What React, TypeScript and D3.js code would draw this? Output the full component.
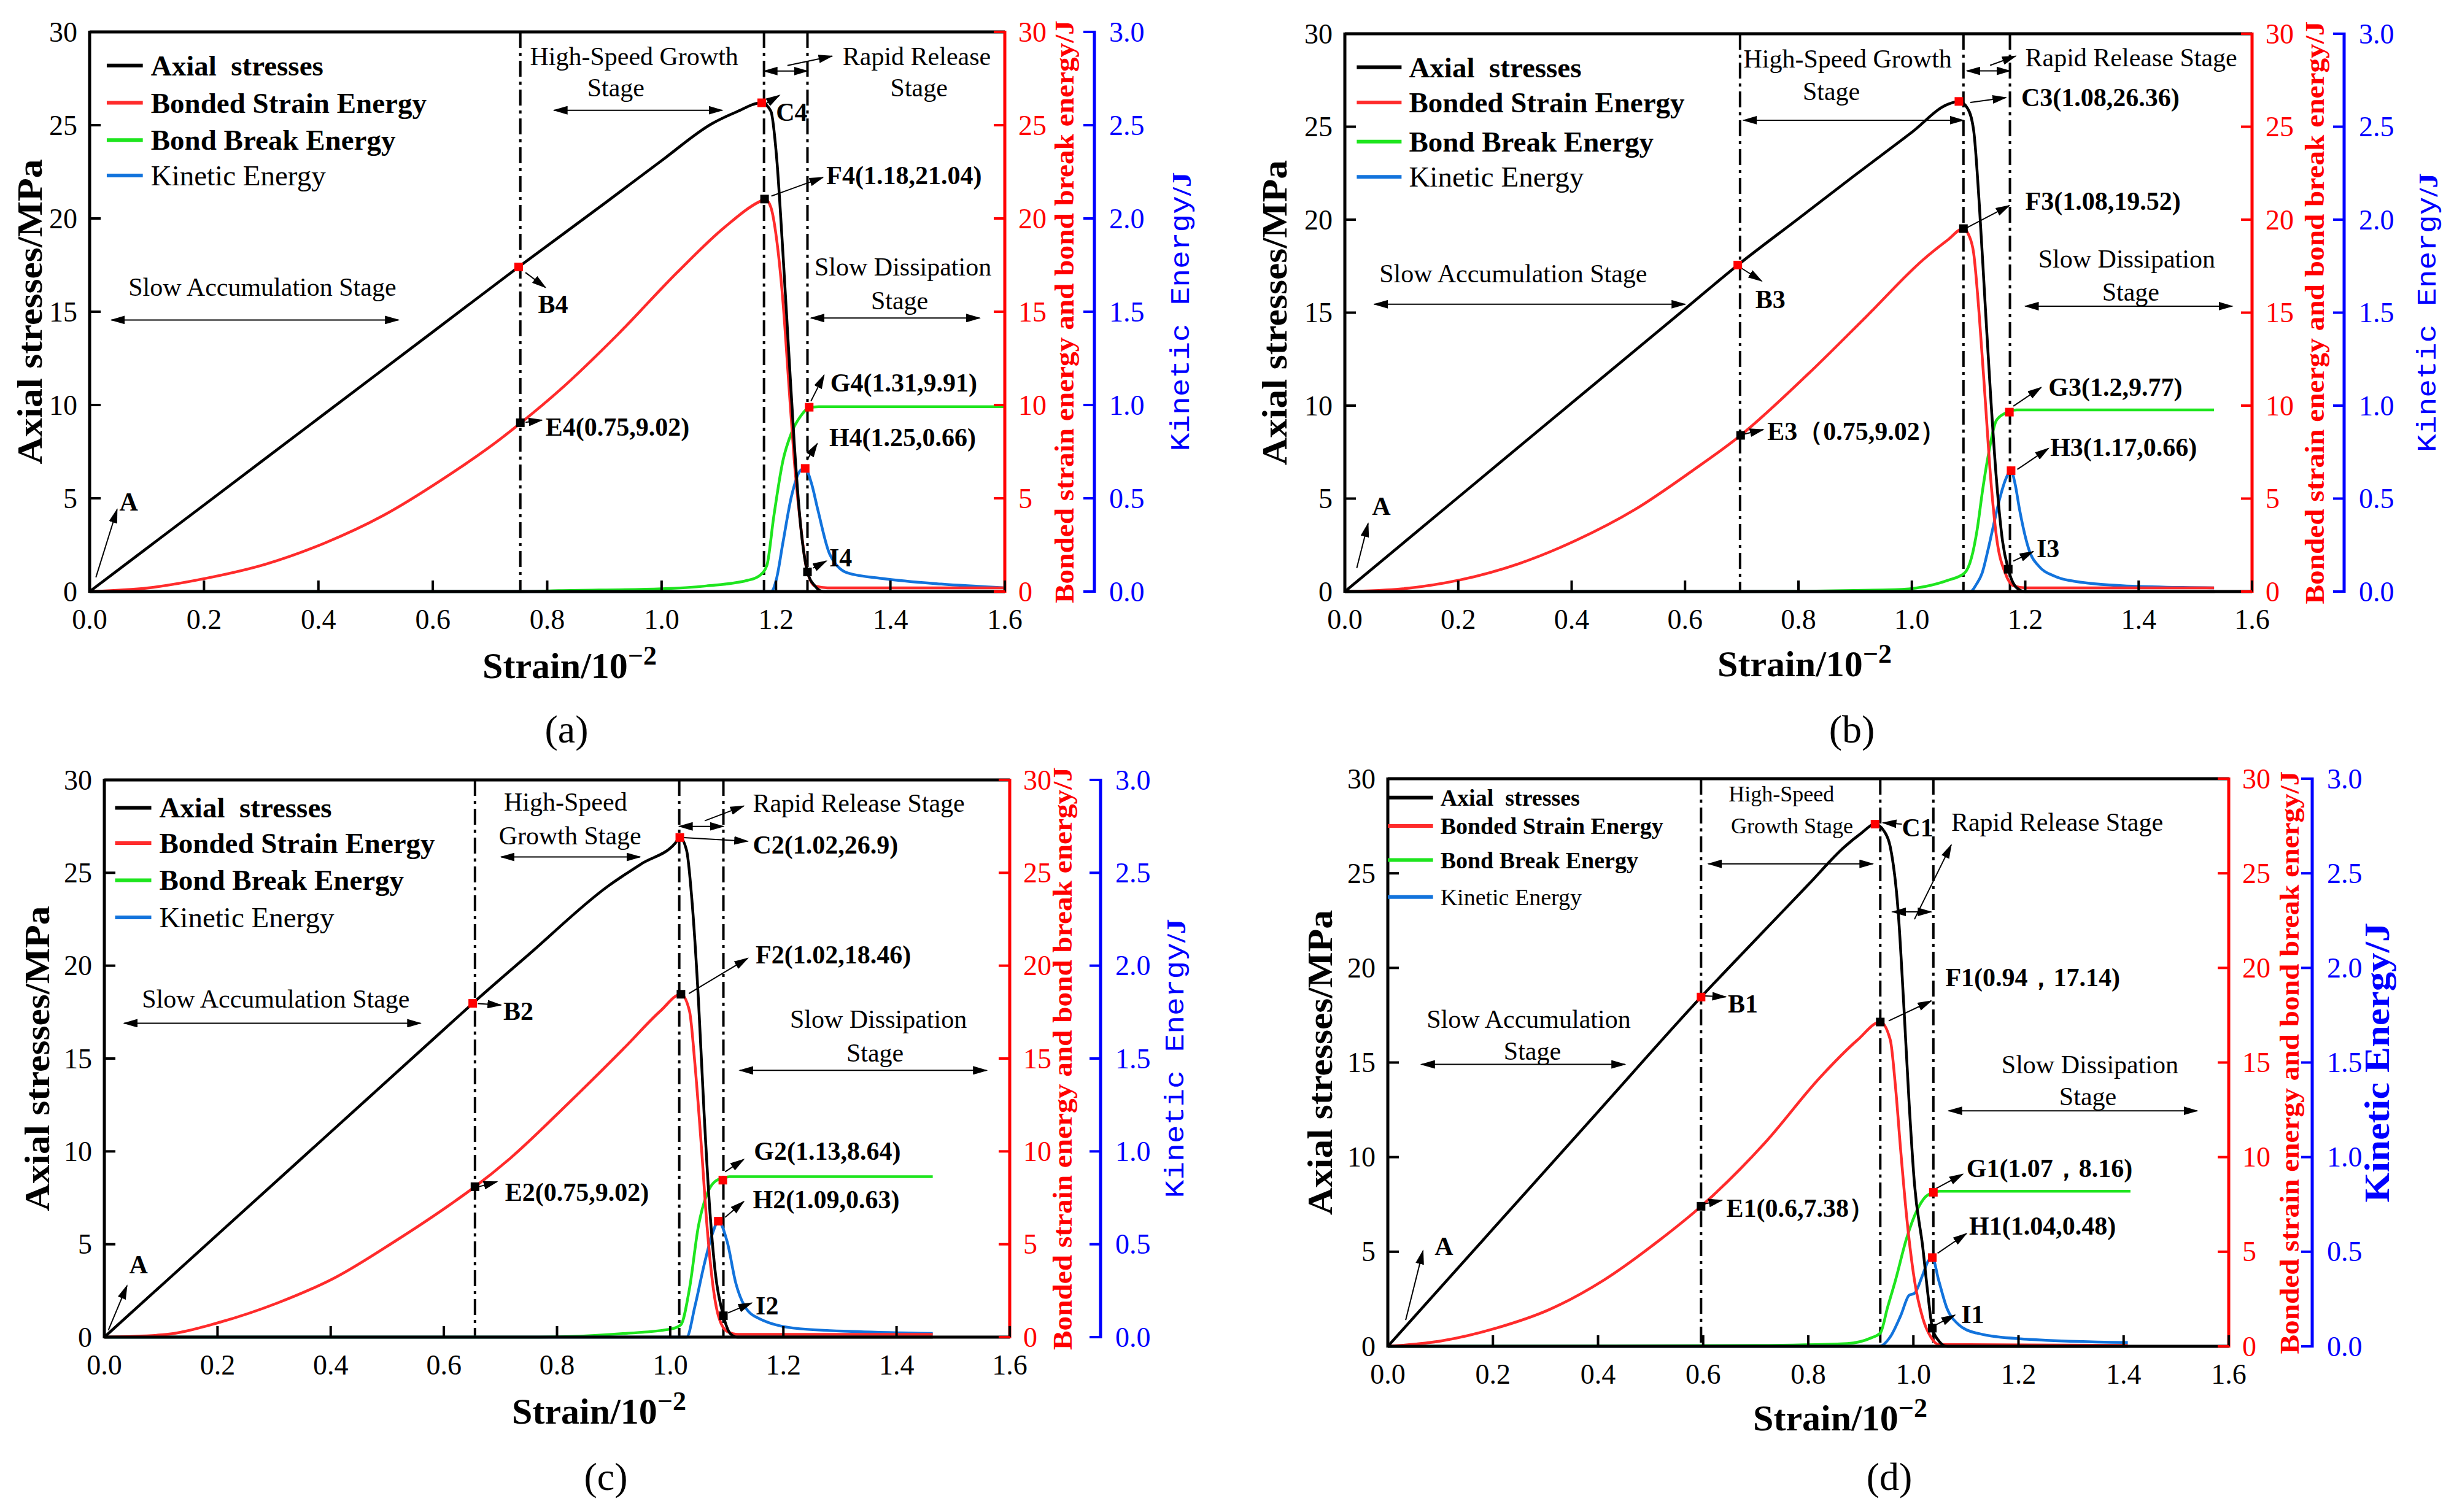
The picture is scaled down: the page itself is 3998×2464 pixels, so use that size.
import * as d3 from "d3";

type P = [number, number];

// ---------- shared axis values ----------
const xTicks = [0, 0.2, 0.4, 0.6, 0.8, 1.0, 1.2, 1.4, 1.6];
const yTicks = [0, 5, 10, 15, 20, 25, 30];
const kTicks = [0, 0.5, 1.0, 1.5, 2.0, 2.5, 3.0];
const legendLabels = ["Axial  stresses", "Bonded Strain Energy", "Bond Break Energy", "Kinetic Energy"];
const seriesColors = ["#000000", "#ff2b2b", "#1ee51e", "#1273dc"];

// ---------- panel (a) ----------
const stressA: P[] = [[0, 0], [0.2, 4.64], [0.4, 9.28], [0.6, 13.92], [0.75, 17.4], [0.9, 20.8], [1.0, 23.1], [1.089, 25.1], [1.13, 25.7], [1.175, 26.2], [1.191, 25.75], [1.201, 23.3], [1.212, 18.2], [1.222, 13.0], [1.232, 7.9], [1.243, 3.55], [1.255, 1.05], [1.268, 0.3], [1.283, 0], [1.6, 0]];
const strainA: P[] = [[0, 0], [0.103, 0.2], [0.205, 0.72], [0.308, 1.47], [0.411, 2.6], [0.513, 4.07], [0.616, 6.0], [0.719, 8.2], [0.753, 9.02], [0.822, 10.8], [0.924, 13.8], [1.027, 17.1], [1.109, 19.5], [1.171, 20.9], [1.181, 21.04], [1.191, 20.6], [1.201, 18.9], [1.212, 15.6], [1.222, 11.3], [1.232, 7.0], [1.243, 3.55], [1.253, 1.3], [1.268, 0.3], [1.29, 0.2], [1.6, 0.2]];
const breakA: P[] = [[0, 0], [0.75, 0], [0.82, 0.05], [1.0, 0.15], [1.078, 0.3], [1.15, 0.6], [1.171, 0.85], [1.184, 1.4], [1.196, 4.0], [1.212, 7.0], [1.227, 8.5], [1.243, 9.4], [1.258, 9.85], [1.275, 9.91], [1.6, 9.91]];
const kineticA: P[] = [[0, 0], [1.191, 0], [1.201, 0.07], [1.212, 0.26], [1.227, 0.51], [1.243, 0.65], [1.251, 0.66], [1.262, 0.58], [1.273, 0.44], [1.294, 0.2], [1.325, 0.1], [1.386, 0.07], [1.489, 0.04], [1.6, 0.02]];
const stageLinesA = [0.753, 1.179, 1.255];

// ---------- panel (b) ----------
const stressB: P[] = [[0, 0], [0.2, 5.07], [0.4, 10.14], [0.6, 15.2], [0.693, 17.56], [0.8, 20.06], [0.9, 22.4], [1.0, 24.7], [1.063, 26.2], [1.083, 26.36], [1.098, 26.0], [1.109, 24.8], [1.119, 20.8], [1.129, 15.6], [1.139, 10.5], [1.149, 6.1], [1.16, 2.7], [1.17, 1.2], [1.185, 0.2], [1.2, 0], [1.534, 0]];
const strainB: P[] = [[0, 0], [0.102, 0.15], [0.204, 0.63], [0.307, 1.5], [0.409, 2.77], [0.511, 4.4], [0.613, 6.5], [0.698, 8.4], [0.817, 11.7], [0.92, 14.8], [1.022, 17.9], [1.063, 18.9], [1.091, 19.52], [1.1, 19.2], [1.109, 18.2], [1.119, 14.8], [1.129, 10.5], [1.139, 6.1], [1.149, 3.0], [1.165, 0.97], [1.18, 0.3], [1.2, 0.2], [1.533, 0.2]];
const breakB: P[] = [[0, 0], [0.7, 0], [0.97, 0.1], [1.063, 0.6], [1.093, 1.0], [1.105, 1.8], [1.115, 3.3], [1.125, 5.5], [1.134, 7.2], [1.149, 9.2], [1.165, 9.6], [1.172, 9.7], [1.185, 9.77], [1.533, 9.77]];
const kineticB: P[] = [[0, 0], [1.103, 0], [1.114, 0.04], [1.124, 0.1], [1.134, 0.22], [1.144, 0.356], [1.155, 0.5], [1.165, 0.6], [1.175, 0.65], [1.182, 0.58], [1.19, 0.44], [1.206, 0.23], [1.226, 0.13], [1.25, 0.085], [1.277, 0.06], [1.379, 0.03], [1.533, 0.02]];
const stageLinesB = [0.697, 1.091, 1.173];

// ---------- panel (c) ----------
const stressC: P[] = [[0, 0], [0.2, 5.52], [0.4, 11.04], [0.6, 16.56], [0.651, 17.97], [0.75, 20.6], [0.891, 24.3], [0.95, 25.5], [1.009, 26.6], [1.017, 26.9], [1.029, 26.2], [1.039, 23.3], [1.05, 18.1], [1.06, 12.0], [1.07, 6.85], [1.08, 3.4], [1.094, 1.15], [1.106, 0.2], [1.118, 0], [1.464, 0]];
const strainC: P[] = [[0, 0], [0.102, 0.12], [0.205, 0.81], [0.307, 1.85], [0.41, 3.24], [0.512, 5.13], [0.614, 7.2], [0.655, 8.1], [0.717, 9.62], [0.819, 12.56], [0.922, 15.67], [0.983, 17.57], [1.019, 18.46], [1.034, 17.57], [1.044, 14.6], [1.055, 10.3], [1.065, 6.0], [1.075, 2.9], [1.085, 1.16], [1.101, 0.3], [1.12, 0.15], [1.464, 0.15]];
const breakC: P[] = [[0, 0], [0.768, 0], [0.922, 0.2], [1.003, 0.45], [1.019, 0.67], [1.034, 2.6], [1.05, 6.0], [1.065, 7.7], [1.08, 8.4], [1.093, 8.55], [1.105, 8.64], [1.464, 8.64]];
const kineticC: P[] = [[0, 0], [1.029, 0], [1.044, 0.17], [1.06, 0.39], [1.075, 0.56], [1.085, 0.624], [1.101, 0.51], [1.116, 0.29], [1.131, 0.17], [1.157, 0.1], [1.229, 0.045], [1.331, 0.03], [1.464, 0.02]];
const stageLinesC = [0.655, 1.016, 1.094];

// ---------- panel (d) ----------
const stressD: P[] = [[0, 0], [0.2, 6.2], [0.4, 12.4], [0.596, 18.46], [0.7, 21.5], [0.8, 24.4], [0.869, 26.4], [0.9, 27.1], [0.927, 27.6], [0.945, 27.2], [0.956, 26.4], [0.971, 23.0], [0.982, 17.9], [0.992, 12.8], [1.002, 8.6], [1.018, 5.2], [1.028, 2.66], [1.036, 0.96], [1.048, 0.3], [1.064, 0], [1.408, 0]];
const strainD: P[] = [[0, 0], [0.103, 0.29], [0.206, 0.96], [0.308, 1.95], [0.411, 3.5], [0.514, 5.55], [0.596, 7.4], [0.719, 10.8], [0.822, 14.2], [0.894, 16.2], [0.937, 17.14], [0.956, 16.2], [0.966, 13.7], [0.976, 10.3], [0.987, 6.9], [1.002, 3.5], [1.018, 1.47], [1.033, 0.5], [1.048, 0.1], [1.408, 0.05]];
const breakD: P[] = [[0, 0], [0.7, 0.05], [0.874, 0.15], [0.92, 0.45], [0.937, 0.7], [0.951, 2.07], [0.966, 3.5], [0.987, 5.7], [1.007, 7.2], [1.023, 7.9], [1.038, 8.14], [1.05, 8.2], [1.413, 8.2]];
const kineticD: P[] = [[0, 0], [0.935, 0], [0.956, 0.05], [0.976, 0.163], [0.992, 0.27], [1.002, 0.28], [1.018, 0.38], [1.028, 0.45], [1.036, 0.469], [1.048, 0.35], [1.064, 0.2], [1.084, 0.12], [1.12, 0.07], [1.203, 0.04], [1.408, 0.02]];
const stageLinesD = [0.596, 0.937, 1.038];

// annotations: [text, x, y, anchor, bold, size?]
type Txt = [string, number, number, "start" | "middle", boolean, number?];
type Arr = [number, number, number, number];
type Span = [number, number, number];
type Mark = [number, number, string];

const textsA: Txt[] = [
  ["High-Speed Growth", 0.952, 28.7, "middle", false], ["Stage", 0.92, 27.0, "middle", false],
  ["Rapid Release", 1.446, 28.7, "middle", false], ["Stage", 1.45, 27.0, "middle", false],
  ["C4", 1.2, 25.7, "start", true], ["F4(1.18,21.04)", 1.288, 22.3, "start", true],
  ["B4", 0.784, 15.4, "start", true], ["Slow Accumulation Stage", 0.302, 16.3, "middle", false],
  ["Slow Dissipation", 1.422, 17.4, "middle", false], ["Stage", 1.416, 15.6, "middle", false],
  ["G4(1.31,9.91)", 1.295, 11.2, "start", true], ["E4(0.75,9.02)", 0.797, 8.8, "start", true],
  ["H4(1.25,0.66)", 1.293, 8.25, "start", true], ["I4", 1.293, 1.8, "start", true], ["A", 0.052, 4.8, "start", true],
];
const arrowsA: Arr[] = [[1.22, 28.2, 1.298, 28.7], [1.179, 26.1, 1.206, 26.6], [1.192, 21.2, 1.282, 22.2], [0.762, 17.1, 0.797, 16.3], [1.261, 10.2, 1.284, 11.6], [0.762, 9.07, 0.791, 9.19], [1.254, 7.05, 1.272, 7.93], [1.265, 1.26, 1.288, 1.64], [0.011, 0.76, 0.048, 4.4]];
const spansA: Span[] = [[25.8, 0.812, 1.106], [27.9, 1.179, 1.255], [14.56, 0.038, 0.54], [14.66, 1.261, 1.556]];
const marksA: Mark[] = [[1.175, 26.2, "red"], [0.75, 17.4, "red"], [1.18, 21.04, "black"], [0.753, 9.05, "black"], [1.258, 9.88, "red"], [1.251, 6.6, "red"], [1.255, 1.05, "black"]];

const textsB: Txt[] = [
  ["High-Speed Growth", 0.703, 28.66, "start", false], ["Stage", 0.858, 26.9, "middle", false],
  ["Rapid Release Stage", 1.2, 28.7, "start", false], ["C3(1.08,26.36)", 1.193, 26.57, "start", true],
  ["F3(1.08,19.52)", 1.2, 21.0, "start", true], ["B3", 0.724, 15.7, "start", true],
  ["Slow Accumulation Stage", 0.297, 17.1, "middle", false], ["Slow Dissipation", 1.379, 17.9, "middle", false],
  ["Stage", 1.386, 16.1, "middle", false], ["G3(1.2,9.77)", 1.241, 11.0, "start", true],
  ["E3（0.75,9.02）", 0.745, 8.6, "start", true], ["H3(1.17,0.66)", 1.244, 7.75, "start", true],
  ["I3", 1.22, 2.3, "start", true], ["A", 0.048, 4.6, "start", true],
];
const arrowsB: Arr[] = [[1.138, 28.3, 1.183, 28.8], [1.103, 26.3, 1.166, 26.57], [1.097, 19.57, 1.172, 20.76], [0.699, 17.4, 0.735, 16.7], [1.179, 9.97, 1.228, 10.98], [0.703, 8.46, 0.738, 8.71], [1.186, 6.57, 1.241, 7.7], [1.179, 1.64, 1.214, 2.15], [0.021, 1.26, 0.041, 3.66]];
const spansB: Span[] = [[25.35, 0.703, 1.091], [28.0, 1.097, 1.173], [15.45, 0.052, 0.6], [15.35, 1.2, 1.565]];
const marksB: Mark[] = [[0.693, 17.56, "red"], [1.083, 26.36, "red"], [1.091, 19.52, "black"], [0.698, 8.4, "black"], [1.172, 9.65, "red"], [1.175, 6.5, "red"], [1.17, 1.2, "black"]];

const textsC: Txt[] = [
  ["High-Speed", 0.815, 28.8, "middle", false], ["Growth Stage", 0.823, 27.0, "middle", false],
  ["Rapid Release Stage", 1.146, 28.75, "start", false], ["C2(1.02,26.9)", 1.146, 26.5, "start", true],
  ["F2(1.02,18.46)", 1.151, 20.6, "start", true], ["B2", 0.705, 17.55, "start", true],
  ["Slow Accumulation Stage", 0.303, 18.2, "middle", false], ["Slow Dissipation", 1.368, 17.1, "middle", false],
  ["Stage", 1.362, 15.3, "middle", false], ["G2(1.13,8.64)", 1.148, 10.0, "start", true],
  ["E2(0.75,9.02)", 0.708, 7.8, "start", true], ["H2(1.09,0.63)", 1.146, 7.4, "start", true],
  ["I2", 1.151, 1.7, "start", true], ["A", 0.044, 3.9, "start", true],
];
const arrowsC: Arr[] = [[1.061, 27.8, 1.13, 28.6], [1.019, 26.9, 1.137, 26.7], [1.033, 18.5, 1.137, 20.4], [0.66, 17.96, 0.701, 17.88], [1.097, 8.9, 1.13, 9.57], [0.662, 8.1, 0.694, 8.37], [1.097, 6.45, 1.13, 7.3], [1.102, 1.3, 1.144, 1.84], [0.007, 0.37, 0.04, 2.77]];
const spansC: Span[] = [[25.85, 0.701, 0.947], [27.5, 1.016, 1.094], [16.9, 0.035, 0.559], [14.36, 1.123, 1.559]];
const marksC: Mark[] = [[1.017, 26.9, "red"], [0.651, 17.97, "red"], [1.019, 18.46, "black"], [0.655, 8.1, "black"], [1.093, 8.45, "red"], [1.085, 6.24, "red"], [1.094, 1.15, "black"]];

const textsD: Txt[] = [
  ["High-Speed", 0.749, 29.2, "middle", false, 36], ["Growth Stage", 0.769, 27.5, "middle", false, 36],
  ["Rapid Release Stage", 1.072, 27.7, "start", false], ["C1", 0.978, 27.4, "start", true],
  ["F1(0.94，17.14)", 1.061, 19.5, "start", true], ["B1", 0.647, 18.1, "start", true],
  ["Slow Accumulation", 0.268, 17.3, "middle", false], ["Stage", 0.275, 15.6, "middle", false],
  ["Slow Dissipation", 1.336, 14.9, "middle", false], ["Stage", 1.332, 13.2, "middle", false],
  ["G1(1.07，8.16)", 1.101, 9.4, "start", true], ["E1(0.6,7.38）", 0.644, 7.3, "start", true],
  ["H1(1.04,0.48)", 1.106, 6.36, "start", true], ["I1", 1.091, 1.7, "start", true], ["A", 0.089, 5.3, "start", true],
];
const arrowsD: Arr[] = [[1.002, 22.57, 1.072, 26.5], [0.978, 27.6, 0.942, 27.67], [0.953, 17.2, 1.034, 18.26], [0.603, 18.52, 0.643, 18.47], [1.042, 8.32, 1.094, 9.1], [0.603, 7.53, 0.636, 7.72], [1.046, 4.92, 1.101, 5.96], [1.042, 1.12, 1.079, 1.65], [0.034, 1.39, 0.067, 5.05]];
const spansD: Span[] = [[25.5, 0.61, 0.923], [22.96, 0.96, 1.034], [14.9, 0.064, 0.451], [12.45, 1.067, 1.54]];
const marksD: Mark[] = [[0.927, 27.6, "red"], [0.596, 18.46, "red"], [0.937, 17.14, "black"], [0.596, 7.4, "black"], [1.038, 8.14, "red"], [1.036, 4.69, "red"], [1.036, 0.96, "black"]];

const SERIF = "'Liberation Serif', 'Times New Roman', serif";
const MONO = "'Liberation Mono', 'DejaVu Sans Mono', monospace";

interface PanelCfg {
  left: number; top: number; right: number; bottom: number; blue: number;
  yTitleDx: number; redTitleDx: number; blueTitleDx: number;
  xTitleX: number; xTitleDy: number; capX: number; capY: number; caption: string;
  stress: P[]; strain: P[]; brk: P[]; kinetic: P[]; stages: number[];
  texts: Txt[]; arrows: Arr[]; spans: Span[]; marks: Mark[];
  legend: { x1: number; x2: number; tx: number; rows: number[]; size: number };
  blueSerif: boolean;
}

const panels: PanelCfg[] = [
  { left: 146, top: 52, right: 1637, bottom: 964, blue: 1783, yTitleDx: 98, redTitleDx: 97, blueTitleDx: 142, xTitleX: 928, xTitleDy: 141, capX: 923, capY: 1210, caption: "(a)",
    stress: stressA, strain: strainA, brk: breakA, kinetic: kineticA, stages: stageLinesA, texts: textsA, arrows: arrowsA, spans: spansA, marks: marksA,
    legend: { x1: 0.03, x2: 0.093, tx: 0.107, rows: [28.2, 26.2, 24.2, 22.3], size: 47 }, blueSerif: false },
  { left: 2191, top: 55, right: 3669, bottom: 964, blue: 3819, yTitleDx: 115, redTitleDx: 102, blueTitleDx: 137, xTitleX: 2940, xTitleDy: 138, capX: 3017, capY: 1210, caption: "(b)",
    stress: stressB, strain: strainB, brk: breakB, kinetic: kineticB, stages: stageLinesB, texts: textsB, arrows: arrowsB, spans: spansB, marks: marksB,
    legend: { x1: 0.021, x2: 0.1, tx: 0.113, rows: [28.2, 26.3, 24.2, 22.3], size: 47 }, blueSerif: false },
  { left: 170, top: 1271, right: 1645, bottom: 2179, blue: 1793, yTitleDx: 110, redTitleDx: 86, blueTitleDx: 123, xTitleX: 976, xTitleDy: 141, capX: 987, capY: 2428, caption: "(c)",
    stress: stressC, strain: strainC, brk: breakC, kinetic: kineticC, stages: stageLinesC, texts: textsC, arrows: arrowsC, spans: spansC, marks: marksC,
    legend: { x1: 0.019, x2: 0.083, tx: 0.097, rows: [28.5, 26.6, 24.6, 22.6], size: 47 }, blueSerif: false },
  { left: 2261, top: 1269, right: 3631, bottom: 2194, blue: 3767, yTitleDx: 111, redTitleDx: 99, blueTitleDx: 106, xTitleX: 2998, xTitleDy: 137, capX: 3078, capY: 2428, caption: "(d)",
    stress: stressD, strain: strainD, brk: breakD, kinetic: kineticD, stages: stageLinesD, texts: textsD, arrows: arrowsD, spans: spansD, marks: marksD,
    legend: { x1: 0.0, x2: 0.086, tx: 0.1, rows: [29.0, 27.5, 25.7, 23.75], size: 38 }, blueSerif: true },
];

function Panel({ c, id }: { c: PanelCfg; id: number }) {
  const x = d3.scaleLinear().domain([0, 1.6]).range([c.left, c.right]);
  const y = d3.scaleLinear().domain([0, 30]).range([c.bottom, c.top]);
  const yk = d3.scaleLinear().domain([0, 3]).range([c.bottom, c.top]);
  const line = d3.line<P>().x(d => x(d[0])).y(d => y(d[1])).curve(d3.curveMonotoneX);
  const lineK = d3.line<P>().x(d => x(d[0])).y(d => yk(d[1])).curve(d3.curveMonotoneX);
  const midY = (c.top + c.bottom) / 2;
  const tick = 18;
  const ah = `url(#ah${id})`;

  return (
    <g>
      <defs>
        <marker id={`ah${id}`} markerUnits="userSpaceOnUse" markerWidth={24} markerHeight={14} refX={22} refY={7} orient="auto-start-reverse">
          <path d="M0,0 L24,7 L0,14 Z" fill="#000" />
        </marker>
      </defs>

      {/* stage boundaries */}
      {c.stages.map((s, i) => (
        <line key={i} x1={x(s)} x2={x(s)} y1={c.top} y2={c.bottom} stroke="#000" strokeWidth={4} strokeDasharray="26 8 5 8" />
      ))}

      {/* curves */}
      <path d={line(c.brk) || ""} fill="none" stroke={seriesColors[2]} strokeWidth={4.5} />
      <path d={lineK(c.kinetic) || ""} fill="none" stroke={seriesColors[3]} strokeWidth={4.5} />
      <path d={line(c.strain) || ""} fill="none" stroke={seriesColors[1]} strokeWidth={4.5} />
      <path d={line(c.stress) || ""} fill="none" stroke={seriesColors[0]} strokeWidth={4.5} />

      {/* frame and the three axes */}
      <line x1={c.left} x2={c.right} y1={c.top} y2={c.top} stroke="#000" strokeWidth={5} />
      <line x1={c.left} x2={c.right} y1={c.bottom} y2={c.bottom} stroke="#000" strokeWidth={5} />
      <line x1={c.left} x2={c.left} y1={c.top - 2} y2={c.bottom + 2} stroke="#000" strokeWidth={5} />
      <line x1={c.right} x2={c.right} y1={c.top - 2} y2={c.bottom + 2} stroke="#ff0000" strokeWidth={5} />
      <line x1={c.blue} x2={c.blue} y1={c.top - 2} y2={c.bottom + 2} stroke="#0000ff" strokeWidth={5} />

      {xTicks.map(t => (
        <g key={`x${t}`}>
          <line x1={x(t)} x2={x(t)} y1={c.bottom} y2={c.bottom - tick} stroke="#000" strokeWidth={4} />
          <text x={x(t)} y={c.bottom + 61} textAnchor="middle" fontFamily={SERIF} fontSize={46}>{t.toFixed(1)}</text>
        </g>
      ))}
      {yTicks.map(t => (
        <g key={`y${t}`}>
          <line x1={c.left} x2={c.left + tick} y1={y(t)} y2={y(t)} stroke="#000" strokeWidth={4} />
          <text x={c.left - 20} y={y(t)} textAnchor="end" dominantBaseline="central" fontFamily={SERIF} fontSize={46}>{t}</text>
        </g>
      ))}
      {yTicks.map(t => (
        <g key={`r${t}`}>
          <line x1={c.right} x2={c.right - tick} y1={y(t)} y2={y(t)} stroke="#ff0000" strokeWidth={4} />
          <text x={c.right + 22} y={y(t)} textAnchor="start" dominantBaseline="central" fontFamily={SERIF} fontSize={46} fill="#ff0000">{t}</text>
        </g>
      ))}
      {kTicks.map(t => (
        <g key={`k${t}`}>
          <line x1={c.blue} x2={c.blue - tick} y1={yk(t)} y2={yk(t)} stroke="#0000ff" strokeWidth={4} />
          <text x={c.blue + 24} y={yk(t)} textAnchor="start" dominantBaseline="central" fontFamily={SERIF} fontSize={46} fill="#0000ff">{t.toFixed(1)}</text>
        </g>
      ))}

      {/* axis titles */}
      <text transform={`translate(${c.left - c.yTitleDx},${midY}) rotate(-90)`} textAnchor="middle" dominantBaseline="central"
        fontFamily={SERIF} fontWeight="bold" fontSize={58} textLength={497} lengthAdjust="spacingAndGlyphs">Axial  stresses/MPa</text>
      <text transform={`translate(${c.right + c.redTitleDx},${midY}) rotate(-90)`} textAnchor="middle" dominantBaseline="central"
        fontFamily={SERIF} fontWeight="bold" fontSize={44} fill="#ff0000" textLength={950} lengthAdjust="spacingAndGlyphs">Bonded strain energy and bond break energy/J</text>
      {c.blueSerif ? (
        <text transform={`translate(${c.blue + c.blueTitleDx},${midY}) rotate(-90)`} textAnchor="middle" dominantBaseline="central"
          fontFamily={SERIF} fontWeight="bold" fontSize={56} fill="#0000ff" textLength={456} lengthAdjust="spacingAndGlyphs">Kinetic Energy/J</text>
      ) : (
        <text transform={`translate(${c.blue + c.blueTitleDx},${midY}) rotate(-90)`} textAnchor="middle" dominantBaseline="central"
          fontFamily={MONO} fontSize={44} fill="#0000ff" textLength={455} lengthAdjust="spacingAndGlyphs">Kinetic  Energy<tspan fontFamily={SERIF} fontWeight="bold">/J</tspan></text>
      )}
      <text x={c.xTitleX} y={c.bottom + c.xTitleDy} textAnchor="middle" fontFamily={SERIF} fontWeight="bold" fontSize={60}>
        Strain/10<tspan dy={-22} fontSize={44}>−2</tspan>
      </text>
      <text x={c.capX} y={c.capY} textAnchor="middle" fontFamily={SERIF} fontSize={64}>{c.caption}</text>

      {/* legend */}
      {legendLabels.map((lab, i) => (
        <g key={`l${i}`}>
          <line x1={x(c.legend.x1)} x2={x(c.legend.x2)} y1={y(c.legend.rows[i])} y2={y(c.legend.rows[i])} stroke={seriesColors[i]} strokeWidth={6} />
          <text x={x(c.legend.tx)} y={y(c.legend.rows[i])} dominantBaseline="central" fontFamily={SERIF}
            fontWeight={i < 3 ? "bold" : "normal"} fontSize={c.legend.size} style={{ whiteSpace: "pre" }}>{lab}</text>
        </g>
      ))}

      {/* stage spans and pointers */}
      {c.spans.map((s, i) => (
        <line key={`s${i}`} x1={x(s[1])} x2={x(s[2])} y1={y(s[0])} y2={y(s[0])} stroke="#000" strokeWidth={2}
          markerStart={ah} markerEnd={ah} />
      ))}
      {c.arrows.map((a, i) => (
        <line key={`a${i}`} x1={x(a[0])} y1={y(a[1])} x2={x(a[2])} y2={y(a[3])} stroke="#000" strokeWidth={2} markerEnd={ah} />
      ))}
      {c.marks.map((m, i) => (
        <rect key={`m${i}`} x={x(m[0]) - 7} y={y(m[1]) - 7} width={14} height={14} fill={m[2] === "red" ? "#ff0000" : "#000"} />
      ))}
      {c.texts.map((t, i) => (
        <text key={`t${i}`} x={x(t[1])} y={y(t[2])} textAnchor={t[3]} dominantBaseline="central" fontFamily={SERIF}
          fontWeight={t[4] ? "bold" : "normal"} fontSize={t[5] ?? 42}>{t[0]}</text>
      ))}
    </g>
  );
}

export default function App() {
  return (
    <svg width={3998} height={2464} viewBox="0 0 3998 2464" style={{ position: "absolute", left: 0, top: 0, background: "#fff" }}>
      <rect x={0} y={0} width={3998} height={2464} fill="#fff" />
      {panels.map((p, i) => <Panel key={i} c={p} id={i} />)}
    </svg>
  );
}
